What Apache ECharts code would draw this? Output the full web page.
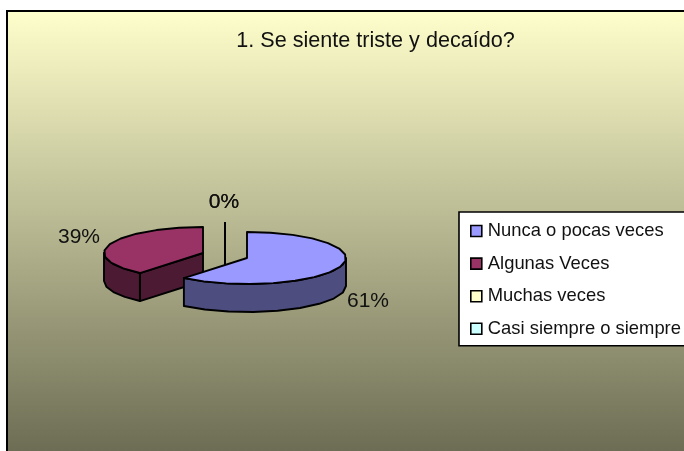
<!DOCTYPE html>
<html><head><meta charset="utf-8">
<style>html,body{margin:0;padding:0;background:#fff}#c{width:684px;height:451px}</style>
<script src="https://cdn.jsdelivr.net/npm/echarts@6/dist/echarts.min.js"></script>
</head><body><div id="c"></div>
<script>
const titleText = '1. Se siente triste y decaído?';
const categories = ['Nunca o pocas veces','Algunas Veces','Muchas veces','Casi siempre o siempre'];
const values = [61,39,0,0];
const topColors = ['#9999FF','#993366','#FFFFCC','#CCFFFF'];
const sideColors = ['#4D4D80','#4D1A33','#808066','#668080'];
const centers = [[247,258],[203,253],[225,248],[225,248]];
const labelAt = [[368,301],[79,237],[224,202],[224,202]];
const layers = [5,2,3,3];
const RX=99, RY=26, DEPTH=28, STEP=14, FONT='"Liberation Sans", Arial, sans-serif';
const total = values.reduce((a,b)=>a+b,0);
const chart = echarts.init(document.getElementById('c'),null,{renderer:'canvas'});
function pt(c,a,d){const r=a*Math.PI/180;return [c[0]+RX*Math.sin(r),c[1]-RY*Math.cos(r)+(d||0)];}
function arc(c,a0,a1,d){const out=[];const n=Math.max(1,Math.round((a1-a0)/STEP));
  for(let i=0;i<=n;i++)out.push(pt(c,a0+(a1-a0)*i/n,d));return out;}
const line={stroke:'#000',lineWidth:1.9,lineJoin:'round'};
function renderSlice(i){
  let start=0;for(let k=0;k<i;k++)start+=values[k];
  const a0=start/total*360,a1=(start+values[i])/total*360,c=centers[i];
  const kids=[];
  const poly=(points,fill)=>kids.push({type:'polygon',shape:{points},style:Object.assign({fill},line)});
  if(values[i]===0){
    kids.push({type:'line',shape:{x1:c[0],y1:c[1]-RY,x2:c[0],y2:c[1]+DEPTH},style:line});
  }else{
    const wall=a=>{const p=pt(c,a);poly([c,p,[p[0],p[1]+DEPTH],[c[0],c[1]+DEPTH]],sideColors[i]);};
    if(a0>180&&a0<360)wall(a0);
    if(a1>0&&a1<180)wall(a1);
    const s=Math.max(a0,90),e=Math.min(a1,270);
    if(e>s)poly(arc(c,s,e,0).concat(arc(c,s,e,DEPTH).reverse()),sideColors[i]);
    poly([c].concat(arc(c,a0,a1,0)),topColors[i]);
  }
  kids.push({type:'text',style:{text:Math.round(values[i]/total*100)+'%',x:labelAt[i][0],y:labelAt[i][1],
    align:'center',verticalAlign:'middle',fill:'#111',font:'21px '+FONT}});
  return {type:'group',children:kids};
}
chart.setOption({
  animation:false,
  backgroundColor:'#fff',
  graphic:[{type:'rect',z:-10,silent:true,shape:{x:7,y:11,width:700,height:460},
    style:{stroke:'#000',lineWidth:2,fill:new echarts.graphic.LinearGradient(0,0,0,1,[{offset:0,color:'#FFFFCC'},{offset:1,color:'#66664F'}])}}],
  title:{text:titleText,left:370.5,top:25,textAlign:'center',textStyle:{fontFamily:FONT,fontSize:21.6,fontWeight:'normal',color:'#111'}},
  legend:{orient:'vertical',left:459,top:212,padding:[6,6,4,11],itemWidth:11,itemHeight:11,itemGap:6.6,
    backgroundColor:'#fff',borderColor:'#000',borderWidth:1.6,selectedMode:false,
    textStyle:{fontFamily:FONT,fontSize:18.4,color:'#111',padding:[5,0,0,1],lineHeight:21},
    data:categories.map((name,i)=>({name,icon:'rect',itemStyle:{color:topColors[i],borderColor:'#000',borderWidth:1.6}}))},
  series:categories.map((name,i)=>({type:'custom',name,coordinateSystem:'none',silent:true,z:layers[i],
    itemStyle:{color:topColors[i]},data:[[values[i]]],renderItem:()=>renderSlice(i)}))
});
</script></body></html>
